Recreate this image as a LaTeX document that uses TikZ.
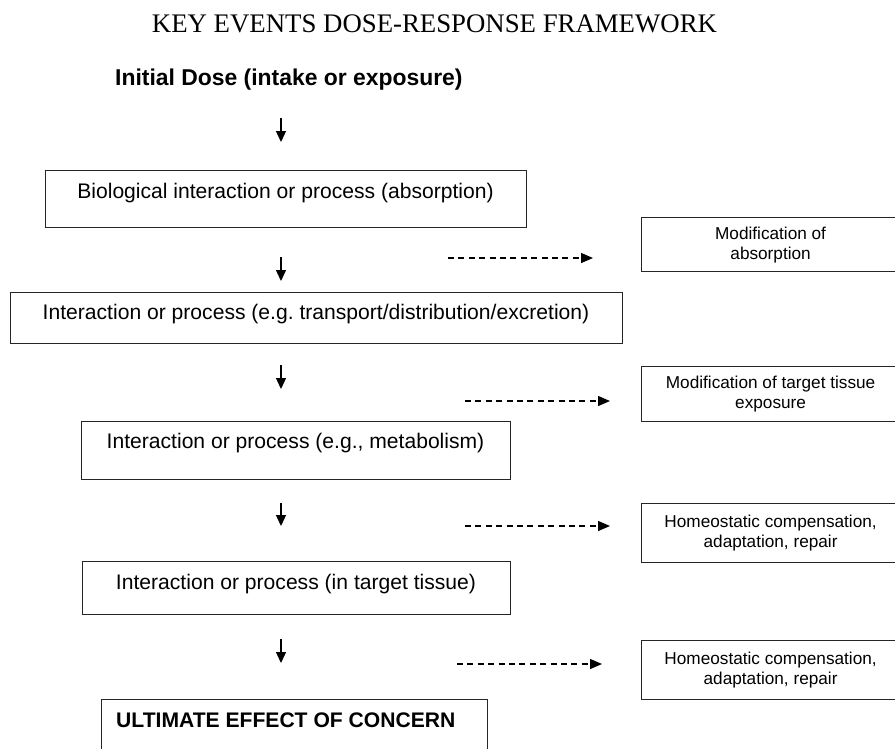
\documentclass[tikz,border=0pt]{standalone}
\usepackage{fontspec}
\setmainfont{Liberation Sans}
\newfontfamily\titlefont{Liberation Serif}
\usetikzlibrary{arrows.meta}
\frenchspacing
\begin{document}
\begin{tikzpicture}[x=1pt,y=-1pt,
  box/.style={draw=black!85, line width=1.2pt, rectangle, inner sep=0pt, anchor=north west},
  maintext/.style={font=\fontsize{21.1}{25}\selectfont, anchor=base, inner sep=0pt},
  sidetext/.style={font=\fontsize{17.2}{20}\selectfont, align=center, inner sep=0pt},
  flow/.style={line width=1.3pt, -{Triangle[length=11pt,width=10pt]}},
  modarrow/.style={line width=1.3pt, dash pattern=on 6pt off 4.4pt, -{Triangle[length=12pt,width=10pt]}}]
\useasboundingbox (0,0) rectangle (895,748);
\clip (0,0) rectangle (895,748);

% title and start
\node[anchor=base, inner sep=0pt, font=\titlefont\fontsize{26.8}{30}\selectfont] (title) at (434.5,32) {KEY EVENTS DOSE-RESPONSE FRAMEWORK};
\node[anchor=base west, inner sep=0pt, font=\bfseries\fontsize{22.9}{27}\selectfont] (dose) at (115,85) {Initial Dose (intake or exposure)};

% main column boxes
\node[box, minimum width=481pt, minimum height=57pt] (b1) at (45,170) {};
\node[maintext] (t1) at (285.5,198) {Biological interaction or process (absorption)};
\node[box, minimum width=612pt, minimum height=51pt] (b2) at (10,292) {};
\node[maintext] (t2) at (316,319.5) {Interaction or process (e.g. transport/distribution/excretion)};
\node[box, minimum width=429pt, minimum height=58pt] (b3) at (81,421) {};
\node[maintext] (t3) at (295.5,448.5) {Interaction or process (e.g., metabolism)};
\node[box, minimum width=428pt, minimum height=53pt] (b4) at (82,561) {};
\node[maintext] (t4) at (296,589) {Interaction or process (in target tissue)};
\node[box, minimum width=386pt, minimum height=80pt] (b5) at (101,699) {};
\node[anchor=base west, inner sep=0pt, font=\bfseries\fontsize{21.1}{25}\selectfont] (t5) at (116,727) {ULTIMATE EFFECT OF CONCERN};

% side boxes
\node[box, minimum width=258pt, minimum height=54pt] (r1) at (641,217) {};
\node[sidetext] (s1) at (r1.center) {Modification of\\absorption};
\node[box, minimum width=258pt, minimum height=55pt] (r2) at (641,366) {};
\node[sidetext] (s2) at (r2.center) {Modification of target tissue\\exposure};
\node[box, minimum width=258pt, minimum height=59pt] (r3) at (641,503) {};
\node[sidetext] (s3) at (r3.center) {Homeostatic compensation,\\adaptation, repair};
\node[box, minimum width=258pt, minimum height=59pt] (r4) at (641,640) {};
\node[sidetext] (s4) at (r4.center) {Homeostatic compensation,\\adaptation, repair};

% solid arrows
\coordinate (a1s) at (281,118); \coordinate (a1e) at (281,142);
\coordinate (a2s) at (281,257); \coordinate (a2e) at (281,281);
\coordinate (a3s) at (281,365); \coordinate (a3e) at (281,389);
\coordinate (a4s) at (281,503); \coordinate (a4e) at (281,526);
\coordinate (a5s) at (281,639); \coordinate (a5e) at (281,663);
\draw[flow] (a1s) -- (a1e);
\draw[flow] (a2s) -- (a2e);
\draw[flow] (a3s) -- (a3e);
\draw[flow] (a4s) -- (a4e);
\draw[flow] (a5s) -- (a5e);

% dashed arrows
\coordinate (d1s) at (448,258); \coordinate (d1e) at (593,258);
\coordinate (d2s) at (465,401); \coordinate (d2e) at (610,401);
\coordinate (d3s) at (465,526); \coordinate (d3e) at (610,526);
\coordinate (d4s) at (457,664); \coordinate (d4e) at (602,664);
\draw[modarrow] (d1s) -- (d1e);
\draw[modarrow] (d2s) -- (d2e);
\draw[modarrow] (d3s) -- (d3e);
\draw[modarrow] (d4s) -- (d4e);
\end{tikzpicture}
\end{document}
